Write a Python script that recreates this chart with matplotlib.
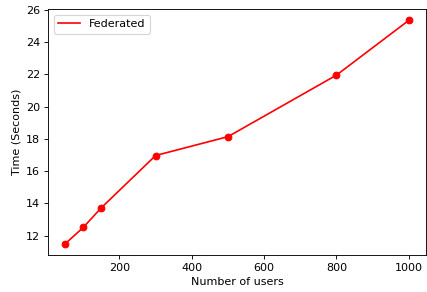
import matplotlib
matplotlib.use("Agg")
from matplotlib import pyplot as plt

users = [50, 100, 150, 300, 500, 800, 1000]
times = [11.49, 12.51, 13.73, 16.97, 18.14, 21.96, 25.36]

# reference looks like a default figure saved at a lower dpi
fig = plt.figure(figsize=(427 / 80, 292 / 80), dpi=80)
ax = fig.add_axes([0.1124, 0.1267, 0.8853, 0.842])
ax.plot(users, times, color='r', label='Federated')
ax.plot(users, times, 'ro')
ax.set_xlabel('Number of users')
ax.set_ylabel('Time (Seconds)')
ax.legend(loc='upper left')
fig.savefig('out.png', dpi=80)
